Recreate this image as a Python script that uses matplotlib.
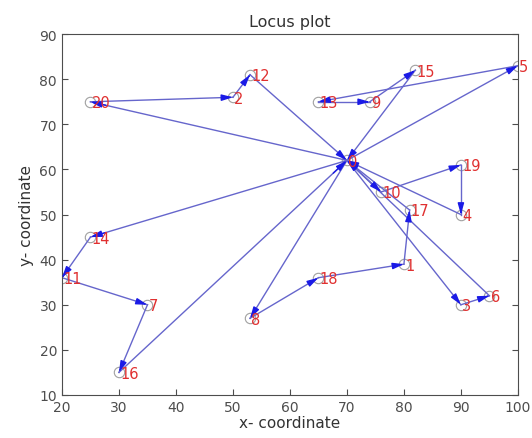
import matplotlib
matplotlib.use("Agg")
import matplotlib.pyplot as plt
import numpy as np

# node 0 is the depot, 1..20 are the customers
node_x = [70, 80, 50, 90, 90, 100, 95, 35, 53, 74, 76, 20, 53, 65, 25, 82, 30, 81, 65, 90, 25]
node_y = [62, 39, 76, 30, 50, 83, 32, 30, 27, 75, 55, 36, 81, 75, 45, 82, 15, 51, 36, 61, 75]
node_labels = [str(i) for i in range(len(node_x))]

# visiting order, every tour starts and ends at the depot
routes = [
    [0, 20, 2, 12, 0],
    [0, 5, 13, 9, 15, 0],
    [0, 10, 19, 4, 0],
    [0, 3, 6, 0],
    [0, 8, 18, 1, 17, 0],
    [0, 14, 11, 7, 16, 0],
]


def main():
    fig = plt.figure(figsize=(5.32, 4.39), dpi=100)
    ax = fig.add_axes([0.1165, 0.098, 0.857, 0.822])

    line_col = (0.40, 0.40, 0.80)
    head_col = (0.1, 0.1, 0.9)

    for r in routes:
        for a, b in zip(r[:-1], r[1:]):
            x0, y0 = node_x[a], node_y[a]
            x1, y1 = node_x[b], node_y[b]
            ax.plot([x0, x1], [y0, y1], color=line_col, lw=1.0, zorder=2)
            # arrow head at the end of each leg
            ax.annotate('', xy=(x1, y1), xytext=(x1 - 0.06 * (x1 - x0), y1 - 0.06 * (y1 - y0)),
                        arrowprops=dict(arrowstyle='-|>,head_width=0.17,head_length=0.6',
                                        color=head_col, lw=1.0,
                                        shrinkA=0, shrinkB=0, mutation_scale=11),
                        zorder=3)

    ax.plot(node_x, node_y, 'o', mfc='none', mec='#a0a0a0', ms=7.5, mew=0.8, zorder=1)
    for x, y, s in zip(node_x, node_y, node_labels):
        ax.text(x + 0.2, y - 0.2, s, color='#e03030', fontsize=10.5, va='center', ha='left', zorder=4)

    ax.set_xlim(20, 100)
    ax.set_ylim(10, 90)
    ax.set_xticks(np.arange(20, 101, 10))
    ax.set_yticks(np.arange(10, 91, 10))
    ax.tick_params(direction='in', colors='#4d4d4d', labelsize=10, length=4, top=False, right=True)
    ax.tick_params(axis='y', left=True, right=True)
    for sp in ax.spines.values():
        sp.set_color('#4d4d4d')
        sp.set_linewidth(0.8)
    ax.set_title('Locus plot', fontsize=11.5, color='#333333')
    ax.set_xlabel('x- coordinate', fontsize=11, color='#333333', labelpad=1)
    ax.set_ylabel('y- coordinate', fontsize=11, color='#333333', labelpad=4)

    fig.savefig('out.png', dpi=100)


if __name__ == "__main__":
    main()
